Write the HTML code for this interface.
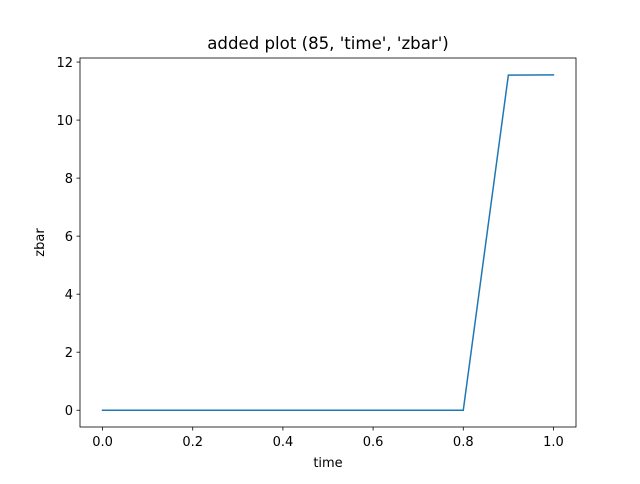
<!DOCTYPE html>
<html><head><meta charset="utf-8"><style>
body{margin:0;background:#fff;font-family:"DejaVu Sans","Liberation Sans",sans-serif;}
</style></head><body>
<svg width="640" height="480" xmlns="http://www.w3.org/2000/svg" font-family="DejaVu Sans, Liberation Sans, sans-serif">
<rect width="640" height="480" fill="#fff"/>
<g id="plot"></g>
</svg>
<script>
const xs=[0,0.1,0.2,0.3,0.4,0.5,0.6,0.7,0.8,0.9,1.0];
const ys=[0,0,0,0,0,0,0,0,0,11.55,11.56];
const xTicks=[0,0.2,0.4,0.6,0.8,1.0];
const xTickLabels=["0.0","0.2","0.4","0.6","0.8","1.0"];
const yTicks=[0,2,4,6,8,10,12];
const yTickLabels=["0","2","4","6","8","10","12"];
const L=80,R=576,T=58,B=427;
const xmin=-0.05,xmax=1.05,ymin=-0.578,ymax=12.14;
const sx=v=>L+(v-xmin)/(xmax-xmin)*(R-L);
const sy=v=>B-(v-ymin)/(ymax-ymin)*(B-T);
const g=document.getElementById('plot');
const NS="http://www.w3.org/2000/svg";
function mk(t,a,txt){const e=document.createElementNS(NS,t);for(const k in a)e.setAttribute(k,a[k]);if(txt!==undefined)e.textContent=txt;g.appendChild(e);return e;}
let d=xs.map((x,i)=>(i?'L':'M')+sx(x).toFixed(2)+' '+sy(ys[i]).toFixed(2)).join(' ');
const line=mk('path',{d:d,fill:'none',stroke:'#1f77b4','stroke-width':1.5,'stroke-linecap':'square'});


const fr=mk('rect',{x:L,y:T,width:R-L,height:B-T,fill:'none',stroke:'#000','stroke-width':0.8});


xTicks.forEach((v,i)=>{const x=sx(v);mk('line',{x1:x,x2:x,y1:B,y2:B+3.5,stroke:'#000','stroke-width':0.8});
const t=mk('text',{x:x,y:B+19,'text-anchor':'middle','font-size':13,fill:'#000'},xTickLabels[i]);

});
yTicks.forEach((v,i)=>{const y=sy(v);mk('line',{x1:L-3.5,x2:L,y1:y,y2:y,stroke:'#000','stroke-width':0.8});
const t=mk('text',{x:L-7,y:y+5,'text-anchor':'end','font-size':13,fill:'#000'},yTickLabels[i]);

});
const xt=mk('text',{x:(L+R)/2,y:467,'text-anchor':'middle','font-size':13,fill:'#000'},'time');


const yt=mk('text',{x:44,y:(T+B)/2,'text-anchor':'middle','font-size':13,fill:'#000',transform:'rotate(-90 44 '+(T+B)/2+')'},'zbar');


const ti=mk('text',{x:(L+R)/2,y:49,'text-anchor':'middle','font-size':16.6,fill:'#000'},"added plot (85, 'time', 'zbar')");


</script>
</body></html>
